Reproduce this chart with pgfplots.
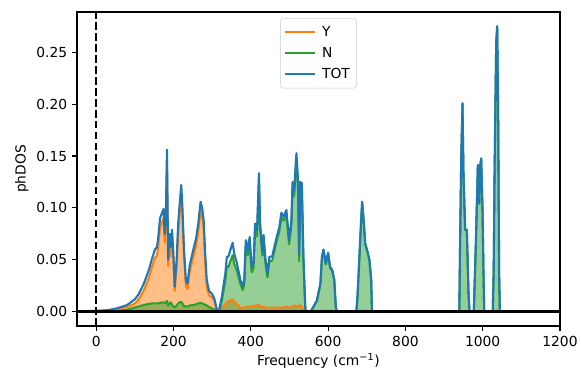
\documentclass[border=0pt]{standalone}
\usepackage{pgfplots}
\usepackage{pgfplotstable}
\pgfplotsset{compat=1.18}
\usepackage{fontspec}
\setmainfont{DejaVu Sans}
\definecolor{mplorange}{HTML}{FF7F0E}
\definecolor{mplgreen}{HTML}{2CA02C}
\definecolor{mplblue}{HTML}{1F77B4}
\definecolor{legedge}{HTML}{CCCCCC}

\pgfplotstableread{
f Y N TOT
-50 0.0003 0.0001 0.0004
0 0.0007 0.0001 0.0008
30 0.0012 0.0003 0.0015
54 0.0027 0.0006 0.0033
80 0.0045 0.002 0.0065
100 0.008 0.004 0.012
110 0.012 0.005 0.017
123 0.0205 0.0065 0.027
136 0.0325 0.0075 0.040
145 0.044 0.008 0.052
152 0.052 0.008 0.060
157 0.054 0.008 0.062
160 0.062 0.008 0.070
165 0.0815 0.0085 0.090
170 0.086 0.009 0.095
174 0.090 0.009 0.099
177 0.0665 0.0085 0.075
180 0.083 0.009 0.092
183 0.1455 0.0105 0.156
186 0.044 0.006 0.050
189 0.068 0.007 0.075
192 0.053 0.009 0.062
196 0.072 0.007 0.079
199 0.055 0.005 0.060
203 0.020 0.004 0.024
208 0.044 0.006 0.050
212 0.077 0.008 0.085
216 0.096 0.009 0.105
220 0.1125 0.0095 0.122
223 0.092 0.008 0.100
227 0.055 0.005 0.060
232 0.025 0.005 0.030
236 0.022 0.005 0.027
242 0.039 0.006 0.045
250 0.0515 0.0065 0.058
258 0.063 0.007 0.070
264 0.077 0.008 0.085
270 0.0975 0.0085 0.106
274 0.092 0.008 0.100
278 0.0805 0.0075 0.088
282 0.0485 0.0065 0.055
286 0.024 0.006 0.030
292 0.0155 0.0045 0.020
300 0.014 0.003 0.017
306 0.010 0.002 0.012
312 0.0015 0.0005 0.002
316 0 0 0
318 0.001 0.001 0.002
325 0.004 0.0105 0.0145
334 0.007 0.030 0.037
338 0.009 0.044 0.053
342 0.010 0.043 0.053
347 0.011 0.0485 0.0595
353 0.012 0.0545 0.0665
357 0.010 0.046 0.056
364 0.007 0.0396 0.0466
373 0.004 0.0266 0.0306
379 0.003 0.021 0.024
383 0.004 0.0266 0.0306
387 0.005 0.064 0.069
392 0.005 0.0545 0.0595
397 0.005 0.067 0.072
402 0.005 0.038 0.043
407 0.005 0.0416 0.0466
411 0.006 0.079 0.085
416 0.006 0.0727 0.0787
421 0.007 0.1264 0.1334
424 0.005 0.080 0.085
430 0.004 0.054 0.058
433 0.005 0.069 0.074
438 0.004 0.046 0.050
443 0.004 0.033 0.037
448 0.004 0.049 0.053
455 0.004 0.049 0.053
461 0.004 0.0587 0.0627
467 0.004 0.068 0.072
474 0.004 0.078 0.082
479 0.004 0.0914 0.0954
485 0.004 0.0876 0.0916
492 0.005 0.093 0.098
499 0.004 0.065 0.069
505 0.004 0.084 0.088
508 0.005 0.120 0.125
512 0.006 0.111 0.117
518 0.005 0.1477 0.1527
522 0.005 0.122 0.127
525 0.006 0.0486 0.0546
528 0.006 0.119 0.125
532 0.005 0.119 0.124
536 0.002 0.051 0.053
541 0 0.003 0.003
545 0 0 0
554 0 0 0
558 0 0.002 0.002
571 0.0003 0.0107 0.011
580 0.0005 0.0265 0.027
584 0.0008 0.0522 0.053
588 0.001 0.059 0.060
594 0.001 0.0456 0.0466
600 0.001 0.0559 0.0569
605 0.001 0.0424 0.0434
611 0.001 0.039 0.040
616 0.0005 0.0301 0.0306
620 0 0.004 0.004
623 0 0 0
673 0 0 0
676 0.0003 0.0142 0.0145
681 0.0008 0.0522 0.053
685 0.001 0.084 0.085
688 0.001 0.105 0.106
692 0.001 0.087 0.088
696 0.001 0.065 0.066
702 0.001 0.057 0.058
707 0.001 0.049 0.050
711.5 0.0005 0.0301 0.0306
713.5 0 0 0
939.5 0 0 0
941.5 0.0003 0.0657 0.066
944.5 0.0005 0.1495 0.150
947.8 0.0005 0.2003 0.2008
950.4 0.0005 0.1295 0.130
954.7 0.0004 0.0786 0.079
959 0.0003 0.0787 0.079
963.3 0.0002 0.0178 0.018
966 0 0 0
977 0 0 0
982.3 0.0003 0.0657 0.066
987.5 0.0005 0.1409 0.1414
991 0.0005 0.104 0.1045
993.6 0.0005 0.1405 0.141
996.1 0.0005 0.1473 0.1478
999.6 0.0004 0.0976 0.098
1002 0.0002 0.0398 0.040
1004 0 0 0
1026 0 0 0
1028.5 0.0003 0.0397 0.040
1030.6 0.0005 0.1295 0.130
1034.9 0.0008 0.2579 0.2587
1037.5 0.001 0.2743 0.2753
1040 0.0008 0.1932 0.194
1042.7 0.0003 0.0337 0.034
1044.5 0 0 0
1050 0 0 0
}\datatab

\begin{document}
\begin{tikzpicture}
\begin{axis}[
  name=main,
  at={(0,0)}, anchor=south west,
  scale only axis,
  width=347.76bp, height=226.08bp,
  xmin=-50, xmax=1200,
  ymin=-0.01375, ymax=0.28875,
  xtick={0,200,400,600,800,1000,1200},
  ytick={0,0.05,0.10,0.15,0.20,0.25},
  xtick pos=left, ytick pos=left,
  tick align=outside,
  major tick length=3.5bp,
  tick style={line width=0.8bp, black},
  axis line style={line width=0.8bp, black},
  /pgf/number format/assume math mode=true,
  xticklabel style={/pgf/number format/1000 sep={}, font=\fontsize{10}{12}\selectfont},
  yticklabel style={/pgf/number format/.cd, fixed, fixed zerofill, precision=2, /tikz/.cd, font=\fontsize{10}{12}\selectfont},
  scaled y ticks=false,
  xlabel={Frequency (cm\textsuperscript{−1})},
  ylabel={phDOS},
  xlabel style={at={(axis description cs:0.5,-0.1115)}, anchor=center, font=\fontsize{10}{12}\selectfont},
  ylabel style={at={(axis description cs:-0.1139,0.5)}, anchor=center, font=\fontsize{10}{12}\selectfont},
  legend style={at={(0.5,0.98)}, anchor=north, draw=legedge, rounded corners=2pt,
    fill=white, fill opacity=0.8, text opacity=1, font=\fontsize{10}{12}\selectfont,
    inner xsep=2.7bp, inner ysep=3.6bp, row sep=2.3bp, column sep=2.7bp},
  legend cell align=left,
  legend image code/.code={\draw[#1] (0bp,0bp) -- (21bp,0bp);},
  every axis plot/.append style={line join=round},
]
\addplot[draw=none, fill=mplorange, fill opacity=0.5, forget plot] table[x=f, y=Y]{\datatab} \closedcycle;
\addplot[draw=none, fill=mplgreen, fill opacity=0.5, forget plot] table[x=f, y=N]{\datatab} \closedcycle;
\addplot[mplorange, line width=1.5bp] table[x=f, y=Y]{\datatab};
\addlegendentry{Y}
\addplot[mplgreen, line width=1.5bp] table[x=f, y=N]{\datatab};
\addlegendentry{N}
\addplot[mplblue, line width=1.5bp] table[x=f, y=TOT]{\datatab};
\addlegendentry{TOT}
\addplot[black, line width=2bp, forget plot] coordinates {(-50,0) (1200,0)};
\addplot[black, line width=1.5bp, dash pattern=on 5.5bp off 2.4bp, forget plot] coordinates {(0,-0.01375) (0,0.28875)};
\end{axis}
\pgfresetboundingbox
\path (-55.4bp,-35.3bp) rectangle (362.9bp,234.7bp);
\end{tikzpicture}
\end{document}
